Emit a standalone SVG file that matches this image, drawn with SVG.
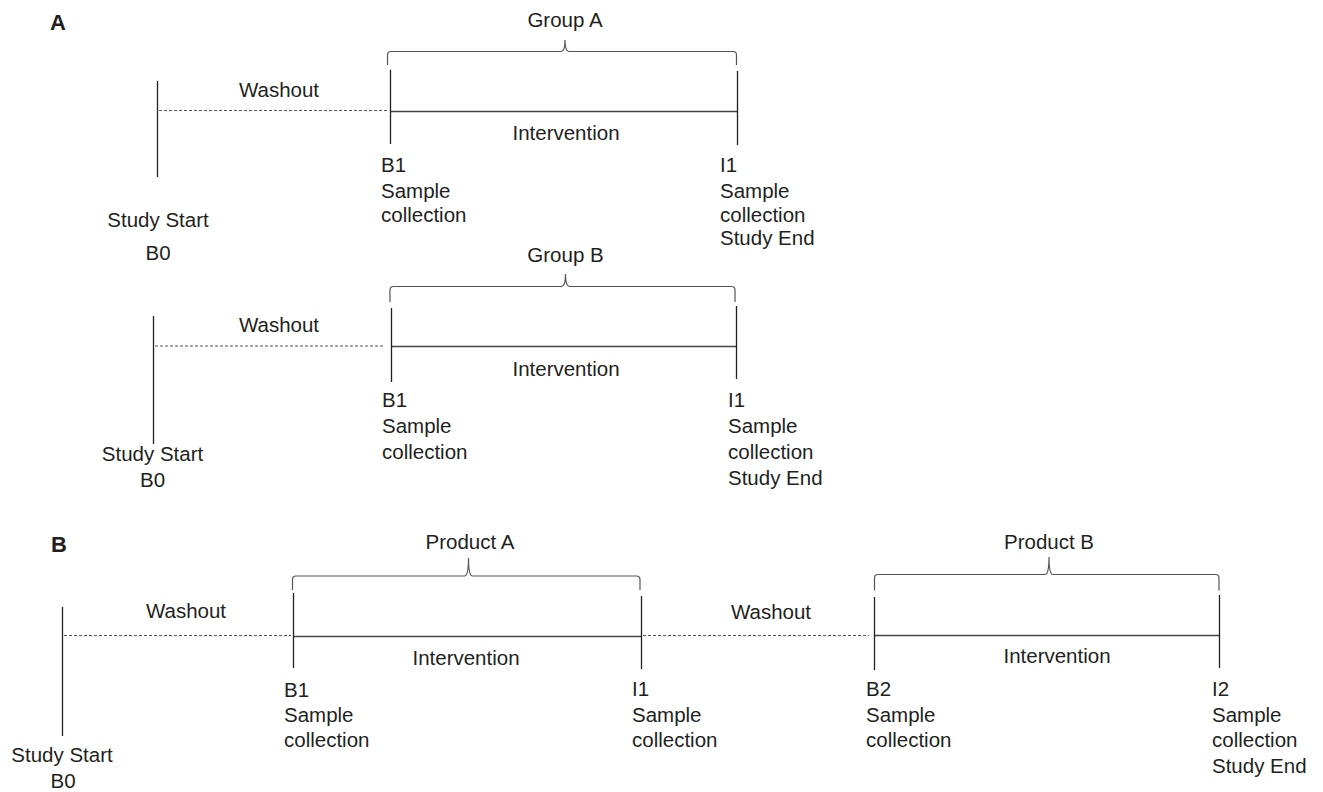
<svg xmlns="http://www.w3.org/2000/svg" width="1323" height="792" viewBox="0 0 1323 792">
<style>
text{font-family:"Liberation Sans",Arial,sans-serif;font-size:20.5px;fill:#231f20}
.mid{text-anchor:middle}
.panel{font-weight:bold;font-size:22px}
.tick{stroke:#231f20;stroke-width:1.3;fill:none}
.wash{stroke:#555;stroke-width:1;stroke-dasharray:3 2;fill:none}
.int{stroke:#444;stroke-width:1.4;fill:none}
.brace{stroke:#555;stroke-width:1.2;fill:none}
</style>
<rect width="1323" height="792" fill="#fff"/>
<text class="panel" x="50" y="30">A</text>
<text class="panel" x="51" y="552">B</text>

<g id="connectors">
  <!-- Group A -->
  <line class="wash" x1="159" y1="110.5" x2="388" y2="110.5"/>
  <line class="int" x1="390" y1="111.5" x2="737" y2="111.5"/>
  <!-- Group B -->
  <line class="wash" x1="155" y1="346" x2="385" y2="346"/>
  <line class="int" x1="391" y1="346.5" x2="736" y2="346.5"/>
  <!-- Panel B -->
  <line class="wash" x1="64" y1="635.5" x2="291" y2="635.5"/>
  <line class="int" x1="293" y1="636.5" x2="641" y2="636.5"/>
  <line class="wash" x1="643" y1="635.5" x2="869" y2="635.5"/>
  <line class="int" x1="874" y1="635.5" x2="1219" y2="635.5"/>
</g>

<g id="groupA">
  <text class="mid" x="565" y="27">Group A</text>
  <path class="brace" d="M387.5,65 V55 Q387.5,51.5 391,51.5 H561 Q565,51.5 565,40 Q565,51.5 569,51.5 H733 Q736.5,51.5 736.5,55 V65"/>
  <line class="tick" x1="157.5" y1="81" x2="157.5" y2="177"/>
  <line class="tick" x1="390.5" y1="70" x2="390.5" y2="144"/>
  <line class="tick" x1="737.5" y1="71" x2="737.5" y2="145"/>
  <text class="mid" x="279" y="97">Washout</text>
  <text class="mid" x="566" y="140">Intervention</text>
  <text class="mid" x="158" y="227">Study Start</text>
  <text class="mid" x="158" y="260">B0</text>
  <text x="381" y="172">B1</text>
  <text x="381" y="198">Sample</text>
  <text x="381" y="222">collection</text>
  <text x="720" y="172">I1</text>
  <text x="720" y="198">Sample</text>
  <text x="720" y="222">collection</text>
  <text x="720" y="245">Study End</text>
</g>

<g id="groupB">
  <text class="mid" x="565.5" y="262">Group B</text>
  <path class="brace" d="M390,302 V290 Q390,286.5 393.5,286.5 H561.5 Q565.5,286.5 565.5,274 Q565.5,286.5 569.5,286.5 H731.5 Q735,286.5 735,290 V302"/>
  <line class="tick" x1="153.5" y1="316" x2="153.5" y2="444"/>
  <line class="tick" x1="391.5" y1="308" x2="391.5" y2="382"/>
  <line class="tick" x1="736.5" y1="306" x2="736.5" y2="379"/>
  <text class="mid" x="279" y="332">Washout</text>
  <text class="mid" x="566" y="376">Intervention</text>
  <text class="mid" x="152.5" y="461">Study Start</text>
  <text class="mid" x="152.5" y="487">B0</text>
  <text x="382" y="407">B1</text>
  <text x="382" y="433">Sample</text>
  <text x="382" y="459">collection</text>
  <text x="728" y="407">I1</text>
  <text x="728" y="433">Sample</text>
  <text x="728" y="459">collection</text>
  <text x="728" y="485">Study End</text>
</g>

<g id="panelB">
  <text class="mid" x="470" y="549">Product A</text>
  <path class="brace" d="M292.5,590 V579.5 Q292.5,576 296,576 H464.5 Q468.5,576 468.5,558 Q468.5,576 472.5,576 H636.5 Q640,576 640,579.5 V590"/>
  <text class="mid" x="1049" y="548.5">Product B</text>
  <path class="brace" d="M874.5,590.5 V578 Q874.5,574.5 878,574.5 H1045 Q1049,574.5 1049,557 Q1049,574.5 1053,574.5 H1215.5 Q1219,574.5 1219,578 V590.5"/>
  <line class="tick" x1="62.5" y1="607" x2="62.5" y2="736"/>
  <line class="tick" x1="293.5" y1="593" x2="293.5" y2="668"/>
  <line class="tick" x1="641.5" y1="596" x2="641.5" y2="669"/>
  <line class="tick" x1="874.5" y1="597" x2="874.5" y2="670"/>
  <line class="tick" x1="1219.5" y1="595" x2="1219.5" y2="668"/>
  <text class="mid" x="186" y="618">Washout</text>
  <text class="mid" x="771" y="619">Washout</text>
  <text class="mid" x="466" y="665">Intervention</text>
  <text class="mid" x="1057" y="663">Intervention</text>
  <text class="mid" x="62" y="762">Study Start</text>
  <text class="mid" x="63" y="788">B0</text>
  <text x="284" y="697">B1</text>
  <text x="284" y="722">Sample</text>
  <text x="284" y="747">collection</text>
  <text x="632" y="696">I1</text>
  <text x="632" y="722">Sample</text>
  <text x="632" y="747">collection</text>
  <text x="866" y="696">B2</text>
  <text x="866" y="722">Sample</text>
  <text x="866" y="747">collection</text>
  <text x="1212" y="696">I2</text>
  <text x="1212" y="722">Sample</text>
  <text x="1212" y="747">collection</text>
  <text x="1212" y="773">Study End</text>
</g>
</svg>
